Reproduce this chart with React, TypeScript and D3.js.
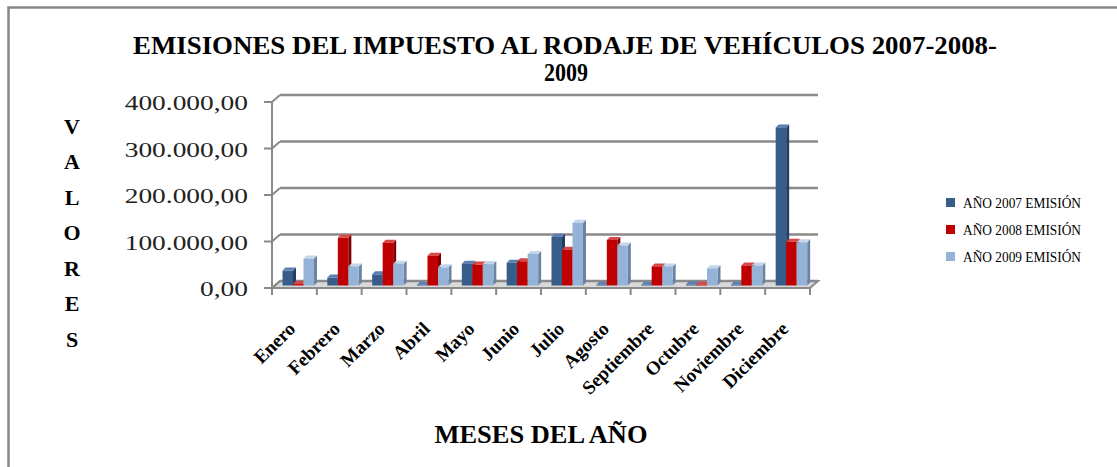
import React from 'react';
import * as d3 from 'd3';

// data
const months = ['Enero', 'Febrero', 'Marzo', 'Abril', 'Mayo', 'Junio', 'Julio', 'Agosto', 'Septiembre', 'Octubre', 'Noviembre', 'Diciembre'];
const seriesNames = ['AÑO 2007 EMISIÓN', 'AÑO 2008 EMISIÓN', 'AÑO 2009 EMISIÓN'];
const emision2007 = [32000, 17000, 24000, 1500, 47000, 49000, 105000, 1500, 1500, 2000, 1500, 340000];
const emision2008 = [3000, 103000, 92000, 64000, 45000, 52000, 77000, 98000, 41000, 2000, 43000, 94000];
const emision2009 = [58000, 41000, 47000, 39000, 46000, 68000, 135000, 86000, 41000, 37000, 43000, 93000];
const yTicks = [0, 100000, 200000, 300000, 400000];

const allSeries = [emision2007, emision2008, emision2009];

// front / side / top colours for the 3D columns
const faces = [
  { front: '#385d8a', side: '#233e60', top: '#5b7fb0' },
  { front: '#c00000', side: '#7f0000', top: '#d94848' },
  { front: '#95b3d7', side: '#6a84a6', top: '#c6d6ea' },
];

const serif = '"Liberation Serif", "Times New Roman", serif';
const gridColor = '#8a8a8a';

const fmt = d3.formatLocale({ decimal: ',', thousands: '.', grouping: [3], currency: ['', ''] }).format(',.2f');

// plot geometry
const left = 272;
const right = 810;
const depthX = 8;
const depthY = -7;
const barDx = 3;
const barDy = -3;

const App = () => {
  const x = d3.scaleBand<string>().domain(months).range([left, right]);
  const inner = d3.scaleBand<number>().domain([0, 1, 2]).range([10.5, 42]);
  const yAxis = d3.scaleLinear().domain([0, 400000]).range([288, 102]);
  const yBar = d3.scaleLinear().domain([0, 400000]).range([285.5, 99.5]);

  const labelWidth = (s: string) => {
    let w = 0;
    for (const c of s) w += c === '.' || c === ',' ? 5 : 10;
    return w * 1.37;
  };

  return (
    <svg width={1117} height={467} style={{ position: 'absolute', left: 0, top: 0, background: '#fff' }}>
      {/* outer frame */}
      <path d="M8.5,480 L8.5,7.5 L1130,7.5" fill="none" stroke="#878787" strokeWidth={2.5} />

      {/* title */}
      <text x={565} y={54} textAnchor="middle" fontFamily={serif} fontWeight="bold" fontSize={25}
        textLength={864} lengthAdjust="spacingAndGlyphs">
        EMISIONES DEL IMPUESTO AL RODAJE DE VEHÍCULOS 2007-2008-
      </text>
      <text x={566} y={81} textAnchor="middle" fontFamily={serif} fontWeight="bold" fontSize={25}
        textLength={44} lengthAdjust="spacingAndGlyphs">
        2009
      </text>

      {/* floor */}
      <path
        d={`M${left},288 L${left + depthX},${288 + depthY} L${right + depthX},${288 + depthY} L${right},288 Z`}
        fill="#d9d9d9" stroke={gridColor} strokeWidth={2} />

      {/* back wall grid lines */}
      {yTicks.map(t => (
        <g key={t}>
          <line x1={left + depthX} x2={right + depthX} y1={yAxis(t) + depthY} y2={yAxis(t) + depthY}
            stroke={gridColor} strokeWidth={2.5} />
          <line x1={left} x2={left + depthX} y1={yAxis(t)} y2={yAxis(t) + depthY} stroke={gridColor} strokeWidth={2} />
          <line x1={left - 8} x2={left} y1={yAxis(t)} y2={yAxis(t)} stroke={gridColor} strokeWidth={2} />
          <text x={248} y={yAxis(t) + 1} textAnchor="end" dominantBaseline="central" fontFamily={serif}
            fontSize={20} textLength={labelWidth(fmt(t))} lengthAdjust="spacingAndGlyphs" fill="#222">
            {fmt(t)}
          </text>
        </g>
      ))}
      <line x1={left} x2={left} y1={yAxis(400000)} y2={yAxis(0)} stroke={gridColor} strokeWidth={2} />

      {/* category ticks */}
      {d3.range(months.length + 1).map(i => {
        const tx = left + i * x.step();
        return <line key={i} x1={tx} x2={tx} y1={288} y2={295} stroke={gridColor} strokeWidth={2} />;
      })}

      {/* 3D columns */}
      {months.map((m, i) => (
        <g key={m}>
          {allSeries.map((s, k) => {
            const x0 = (x(m) as number) + (inner(k) as number);
            const w = inner.bandwidth();
            const y0 = yBar(0);
            const y1 = yBar(s[i]);
            const f = faces[k];
            return (
              <g key={k}>
                <path d={`M${x0 + w},${y1} L${x0 + w + barDx},${y1 + barDy} L${x0 + w + barDx},${y0 + barDy} L${x0 + w},${y0} Z`}
                  fill={f.side} />
                <path d={`M${x0},${y1} L${x0 + barDx},${y1 + barDy} L${x0 + w + barDx},${y1 + barDy} L${x0 + w},${y1} Z`}
                  fill={f.top} />
                <rect x={x0} y={y1} width={w} height={y0 - y1} fill={f.front} />
              </g>
            );
          })}
        </g>
      ))}

      {/* month labels */}
      {months.map(m => {
        const cx = (x(m) as number) + x.bandwidth() / 2;
        return (
          <text key={m} transform={`translate(${cx + 2},${330}) rotate(-45)`} textAnchor="end"
            fontFamily={serif} fontWeight="bold" fontSize={19}>
            {m}
          </text>
        );
      })}

      {/* y axis title, stacked letters */}
      {'VALORES'.split('').map((c, i) => (
        <text key={i} x={72} y={126 + i * 35.5} textAnchor="middle" dominantBaseline="central"
          fontFamily={serif} fontWeight="bold" fontSize={22}>
          {c}
        </text>
      ))}

      {/* x axis title */}
      <text x={541} y={443} textAnchor="middle" fontFamily={serif} fontWeight="bold" fontSize={26}
        textLength={213} lengthAdjust="spacingAndGlyphs">
        MESES DEL AÑO
      </text>

      {/* legend */}
      {seriesNames.map((n, k) => (
        <g key={n} transform={`translate(946,${203 + k * 27})`}>
          <rect x={0} y={-5} width={9} height={9} fill={faces[k].front} />
          <text x={17} y={0} dominantBaseline="central" fontFamily={serif} fontSize={15}
            textLength={118} lengthAdjust="spacingAndGlyphs">
            {n}
          </text>
        </g>
      ))}
    </svg>
  );
};

export default App;
